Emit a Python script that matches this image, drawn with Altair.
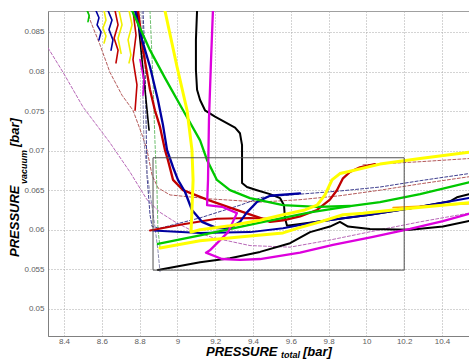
import altair as alt
import pandas as pd

# ---------------- data ----------------
x_ticks = [8.4, 8.6, 8.8, 9.0, 9.2, 9.4, 9.6, 9.8, 10.0, 10.2, 10.4]
y_ticks = [0.05, 0.055, 0.06, 0.065, 0.07, 0.075, 0.08, 0.085]
x_domain = [8.3153, 10.5429]
y_domain = [0.04657, 0.08765]

# thick solid runs
black_a_x = [9.104, 9.098, 9.098, 9.104, 9.120, 9.146, 9.199, 9.252, 9.305, 9.331, 9.342, 9.342, 9.342, 9.368, 9.421, 9.490, 9.543, 9.564, 9.569, 9.580, 9.739, 10.019, 10.284, 10.442, 10.479, 10.543]
black_a_y = [0.0877, 0.0840, 0.0802, 0.0777, 0.0764, 0.0751, 0.0743, 0.0736, 0.0729, 0.0722, 0.0707, 0.0682, 0.0659, 0.0654, 0.0650, 0.0645, 0.0640, 0.0631, 0.0615, 0.0605, 0.0610, 0.0619, 0.0629, 0.0636, 0.0641, 0.0645]
black_b_x = [8.897, 9.120, 9.278, 9.437, 9.596, 9.702, 9.807, 9.860, 9.903, 10.019, 10.231, 10.405, 10.543]
black_b_y = [0.0549, 0.0559, 0.0564, 0.0572, 0.0583, 0.0597, 0.0604, 0.0610, 0.0604, 0.0601, 0.0600, 0.0604, 0.0611]
magenta_x = [9.188, 9.178, 9.167, 9.162, 9.157, 9.236, 9.315, 9.268, 9.172, 9.151, 9.236, 9.331, 9.437, 9.649, 9.823, 10.035, 10.231, 10.405, 10.543]
magenta_y = [0.0877, 0.0815, 0.0739, 0.0663, 0.0631, 0.0629, 0.0621, 0.0597, 0.0574, 0.0571, 0.0563, 0.0562, 0.0563, 0.0571, 0.0581, 0.0591, 0.0601, 0.0611, 0.0620]
yellow_a_x = [8.934, 8.998, 9.051, 9.077, 9.083, 9.077, 9.072, 9.120, 9.278, 9.437, 9.559, 9.675, 9.739, 9.781, 9.818, 9.860, 9.913, 10.072, 10.284, 10.543]
yellow_a_y = [0.0877, 0.0806, 0.0751, 0.0701, 0.0663, 0.0625, 0.0597, 0.0600, 0.0605, 0.0612, 0.0619, 0.0625, 0.0631, 0.0644, 0.0663, 0.0671, 0.0674, 0.0683, 0.0690, 0.0698]
yellow_b_x = [8.908, 9.120, 9.384, 9.559, 9.638, 9.755, 9.876, 9.982, 10.178, 10.543]
yellow_b_y = [0.0577, 0.0586, 0.0592, 0.0596, 0.0602, 0.0610, 0.0619, 0.0621, 0.0626, 0.0634]
orange_x = [10.141, 10.543]
orange_y = [0.0628, 0.0633]
green_a_x = [8.760, 8.802, 8.855, 8.934, 9.030, 9.120, 9.157, 9.209, 9.278, 9.384, 9.559, 9.739, 9.913, 10.072, 10.284, 10.543]
green_a_y = [0.0877, 0.0855, 0.0827, 0.0792, 0.0751, 0.0713, 0.0688, 0.0663, 0.0650, 0.0640, 0.0631, 0.0629, 0.0630, 0.0635, 0.0645, 0.0660]
green_b_x = [8.897, 9.120, 9.437, 9.702, 9.913]
green_b_y = [0.0582, 0.0593, 0.0609, 0.0622, 0.0630]
navy_a_x = [8.776, 8.813, 8.855, 8.897, 8.924, 8.945, 8.977, 9.003, 9.040, 9.077, 9.130, 9.209, 9.278, 9.331, 9.368, 9.421, 9.490, 9.649]
navy_a_y = [0.0877, 0.0840, 0.0806, 0.0764, 0.0732, 0.0701, 0.0679, 0.0663, 0.0648, 0.0625, 0.0610, 0.0602, 0.0602, 0.0610, 0.0622, 0.0635, 0.0643, 0.0646]
navy_b_x = [8.871, 9.120, 9.384, 9.559, 9.739, 10.019, 10.284, 10.543]
navy_b_y = [0.0599, 0.0596, 0.0597, 0.0602, 0.0610, 0.0619, 0.0629, 0.0640]
red_a_x = [8.792, 8.818, 8.855, 8.881, 8.908, 8.934, 8.950, 8.977, 9.030, 9.157, 9.278, 9.437, 9.490, 9.559, 9.649, 9.739, 9.807, 9.844, 9.876, 9.913, 9.966, 10.045]
red_a_y = [0.0877, 0.0827, 0.0777, 0.0751, 0.0730, 0.0701, 0.0688, 0.0663, 0.0650, 0.0638, 0.0628, 0.0615, 0.0610, 0.0612, 0.0617, 0.0625, 0.0638, 0.0650, 0.0665, 0.0673, 0.0679, 0.0683]
red_b_x = [8.855, 9.030, 9.209, 9.384, 9.474]
red_b_y = [0.0599, 0.0607, 0.0614, 0.0615, 0.0614]

# thin dashed runs
pink_x = [8.315, 8.395, 8.501, 8.643, 8.749, 8.839, 8.908, 8.987, 9.067, 9.188, 9.384, 9.596, 9.807, 10.072, 10.284, 10.543]
pink_y = [0.0830, 0.0799, 0.0755, 0.0710, 0.0673, 0.0638, 0.0622, 0.0610, 0.0600, 0.0590, 0.0580, 0.0578, 0.0587, 0.0600, 0.0610, 0.0621]
brown_a_x = [8.527, 8.538, 8.590, 8.643, 8.707, 8.765, 8.813, 8.839, 8.866, 8.897, 8.961, 9.172, 9.437, 9.649, 9.860, 10.072, 10.284, 10.543]
brown_a_y = [0.0877, 0.0865, 0.0834, 0.0799, 0.0770, 0.0751, 0.0720, 0.0701, 0.0669, 0.0653, 0.0644, 0.0639, 0.0635, 0.0638, 0.0643, 0.0650, 0.0658, 0.0667]
brown_b_x = [9.982, 10.284, 10.543]
brown_b_y = [0.0682, 0.0686, 0.0690]
navyd_x = [8.818, 8.829, 8.834, 8.839, 8.855, 8.866, 8.908, 9.120, 9.331, 9.448, 9.649, 9.860, 10.072, 10.284, 10.543]
navyd_y = [0.0877, 0.0815, 0.0739, 0.0669, 0.0619, 0.0604, 0.0602, 0.0615, 0.0631, 0.0641, 0.0645, 0.0649, 0.0654, 0.0662, 0.0671]
grayd_x = [8.813, 8.818, 8.823, 8.839, 8.866, 8.881, 8.897, 8.908]
grayd_y = [0.0877, 0.0764, 0.0713, 0.0672, 0.0629, 0.0604, 0.0574, 0.0547]
greend_x = [8.855, 8.871, 8.881, 8.892, 8.897, 8.908]
greend_y = [0.0877, 0.0789, 0.0713, 0.0650, 0.0600, 0.0578]

# short noisy runs at the top
n_green_x = [8.522, 8.533, 8.527]
n_green_y = [0.0877, 0.0871, 0.0863]
n_navy1_x = [8.569, 8.585, 8.575, 8.596, 8.585]
n_navy1_y = [0.0877, 0.0868, 0.0859, 0.0850, 0.0840]
n_yel1_x = [8.612, 8.622, 8.606, 8.622, 8.612]
n_yel1_y = [0.0877, 0.0865, 0.0855, 0.0845, 0.0836]
n_navy2_x = [8.633, 8.654, 8.638, 8.659, 8.649]
n_navy2_y = [0.0877, 0.0865, 0.0853, 0.0840, 0.0827]
n_red1_x = [8.670, 8.686, 8.665, 8.686, 8.675]
n_red1_y = [0.0877, 0.0859, 0.0842, 0.0827, 0.0811]
n_yel2_x = [8.691, 8.707, 8.686, 8.702]
n_yel2_y = [0.0877, 0.0859, 0.0842, 0.0823]
n_yel3_x = [8.744, 8.760, 8.739, 8.754, 8.744]
n_yel3_y = [0.0877, 0.0859, 0.0840, 0.0821, 0.0811]
n_red2_x = [8.765, 8.781, 8.765, 8.786, 8.776]
n_red2_y = [0.0877, 0.0846, 0.0815, 0.0783, 0.0751]
n_black_x = [8.786, 8.802, 8.818, 8.834, 8.850]
n_black_y = [0.0877, 0.0840, 0.0802, 0.0764, 0.0726]
n_mag_x = [8.802, 8.823, 8.818]
n_mag_y = [0.0815, 0.0789, 0.0770]

box_x = [8.871, 10.2]
box_y = [0.0549, 0.0691]

y_title = ["PRESSURE", "vacuum", "[bar]"]
x_title = ["PRESSURE", "total", "[bar]"]

# ---------------- chart ----------------
FONT = "Liberation Sans"
x_axis = alt.Axis(values=x_ticks, format="~g", grid=True, gridDash=[1, 2], gridColor="#a8a8a8",
                  domainColor="#808080", ticks=False, labelColor="#606060", labelFontSize=8,
                  labelFont=FONT, labelPadding=1, title=None)
y_axis = alt.Axis(values=y_ticks, format="~g", grid=True, gridDash=[1, 2], gridColor="#a8a8a8",
                  domainColor="#808080", ticks=False, labelColor="#606060", labelFontSize=8,
                  labelFont=FONT, labelPadding=4, title=None)
X = alt.X("x:Q", scale=alt.Scale(domain=x_domain, nice=False, zero=False), axis=x_axis)
Y = alt.Y("y:Q", scale=alt.Scale(domain=y_domain, nice=False, zero=False), axis=y_axis)


def run(xs, ys, color, width, dash=None):
    d = pd.DataFrame({"x": xs, "y": ys, "i": list(range(len(xs)))})
    kw = dict(color=color, strokeWidth=width, clip=True, strokeJoin="round", strokeCap="round")
    if dash:
        kw["strokeDash"] = dash
    return alt.Chart(d).mark_line(**kw).encode(x=X, y=Y, order="i:Q")


layers = []
# dashed
layers.append(run(pink_x, pink_y, "#b868b8", 1, [3, 2]))
layers.append(run(brown_a_x, brown_a_y, "#b45a5a", 1, [3, 2]))
layers.append(run(brown_b_x, brown_b_y, "#b45a5a", 1, [3, 2]))
layers.append(run(navyd_x, navyd_y, "#404090", 1, [3, 2]))
layers.append(run(grayd_x, grayd_y, "#8c8cb0", 1, [3, 2]))
layers.append(run(greend_x, greend_y, "#70c070", 1, [3, 2]))
# noisy
for xs, ys, c in [(n_green_x, n_green_y, "#00c800"), (n_navy1_x, n_navy1_y, "#0000a0"),
                  (n_yel1_x, n_yel1_y, "#f0f000"), (n_navy2_x, n_navy2_y, "#0000a0"),
                  (n_red1_x, n_red1_y, "#c00000"), (n_yel2_x, n_yel2_y, "#f0f000"),
                  (n_yel3_x, n_yel3_y, "#f0f000"), (n_red2_x, n_red2_y, "#c00000"),
                  (n_black_x, n_black_y, "#000000"), (n_mag_x, n_mag_y, "#dd00dd")]:
    layers.append(run(xs, ys, c, 1.6))
# thick
layers.append(run(black_a_x, black_a_y, "#000000", 2))
layers.append(run(navy_b_x, navy_b_y, "#0000a0", 2))
layers.append(run(black_b_x, black_b_y, "#000000", 2))
layers.append(run(red_b_x, red_b_y, "#c00000", 2))
layers.append(run(red_a_x, red_a_y, "#c00000", 2.3))
layers.append(run(navy_a_x, navy_a_y, "#0000a0", 2.3))
layers.append(run(green_b_x, green_b_y, "#00c800", 2.3))
layers.append(run(green_a_x, green_a_y, "#00c800", 2.3))
layers.append(run(orange_x, orange_y, "#ffa500", 1.5))
layers.append(run(magenta_x, magenta_y, "#dd00dd", 2.3))
layers.append(run(yellow_b_x, yellow_b_y, "#ffff00", 3))
layers.append(run(yellow_a_x, yellow_a_y, "#ffff00", 3))

box = alt.Chart(pd.DataFrame({"x1": [box_x[0]], "x2": [box_x[1]], "y1": [box_y[0]], "y2": [box_y[1]]})).mark_rect(
    fillOpacity=0, stroke="#505050", strokeWidth=1).encode(
    x=alt.X("x1:Q", scale=alt.Scale(domain=x_domain, nice=False, zero=False), axis=x_axis), x2="x2:Q",
    y=alt.Y("y1:Q", scale=alt.Scale(domain=y_domain, nice=False, zero=False), axis=y_axis), y2="y2:Q")
layers.append(box)


def label(txt, px, py, size, angle=0, baseline="middle"):
    kw = dict(font=FONT, fontSize=size, fontWeight="bold", fontStyle="italic", color="#000000",
              align="left", baseline=baseline)
    if angle:
        kw["angle"] = angle
    return alt.Chart(pd.DataFrame({"t": [txt]})).mark_text(**kw).encode(
        text="t:N", x=alt.value(px), y=alt.value(py))


layers.append(label(y_title[0], -33, 246, 13, 270))
layers.append(label(y_title[1], -24, 173, 9, 270))
layers.append(label(y_title[2], -33, 136, 13, 270))
layers.append(label(x_title[0], 158, 345, 13, baseline="alphabetic"))
layers.append(label(x_title[1], 233, 347, 9, baseline="alphabetic"))
layers.append(label(x_title[2], 255, 345, 13, baseline="alphabetic"))

chart = alt.layer(*layers).properties(
    width=421, height=325,
    autosize=alt.AutoSizeParams(type="none"),
    padding={"left": 48, "top": 11, "right": 0, "bottom": 23},
).configure_view(stroke="#a0a0a0", strokeWidth=1)

chart.save("out.html", embed_options={"renderer": "svg", "actions": False})
